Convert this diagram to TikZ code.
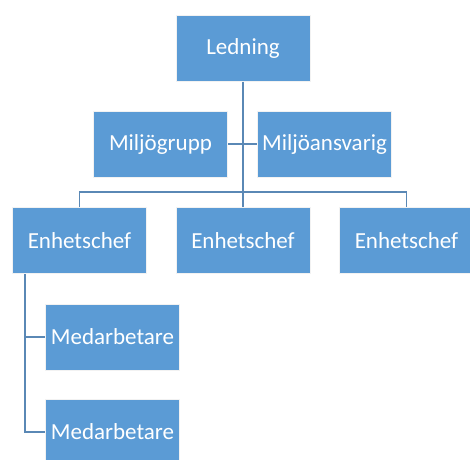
\documentclass[tikz,border=0pt]{standalone}
\usepackage{fontspec}
\setmainfont{Carlito}
\definecolor{boxblue}{HTML}{5B9BD5}
\definecolor{linecol}{HTML}{5A88B5}
\begin{document}
\begin{tikzpicture}[x=1pt,y=-1pt,
  orgbox/.style={fill=boxblue,draw=white!90!gray,line width=1pt,minimum width=134pt,minimum height=66pt,
    inner sep=0pt,text=white,font=\fontsize{23}{26}\selectfont},
  conn/.style={draw=linecol,line width=1.4pt}]
\useasboundingbox (0,0) rectangle (470,459);
\clip (0,0) rectangle (470,459);
\node[orgbox] (led) at (243,48) {Ledning};
\node[orgbox] (mg) at (160.5,144) {Miljögrupp};
\node[orgbox] (ma) at (324.5,144) {Miljöansvarig};
\node[orgbox] (e1) at (79.5,240.5) {Enhetschef};
\node[orgbox] (e2) at (243,240.5) {Enhetschef};
\node[orgbox] (e3) at (406.5,240.5) {Enhetschef};
\node[orgbox] (m1) at (112.5,337) {Medarbetare};
\node[orgbox] (m2) at (112.5,432) {Medarbetare};
\coordinate (bus) at (243,192);
\coordinate (ebus) at (25,0);
\draw[conn] (led.south) -- (bus);
\draw[conn] (mg.east) -- (ma.west);
\draw[conn] (e1.north) |- (bus) -| (e3.north);
\draw[conn] (bus) -- (e2.north);
\draw[conn] (e1.south -| ebus) |- (m1.west);
\draw[conn] (e1.south -| ebus) |- (m2.west);
\end{tikzpicture}
\end{document}
